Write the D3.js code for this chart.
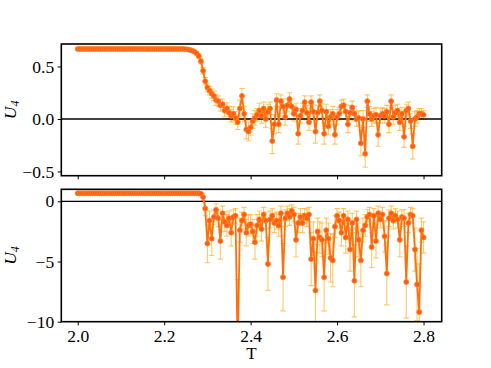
<!DOCTYPE html>
<html>
<head>
<meta charset="utf-8">
<script src="https://cdn.jsdelivr.net/npm/d3@7"></script>
<style>
  html, body { margin: 0; padding: 0; background: #fff; }
  svg { display: block; }
</style>
</head>
<body>
<svg id="chart" width="491" height="368"></svg>
<script>
// ---------------- DATA ----------------
const temps = [
2.000,2.005,2.010,2.015,2.020,2.025,2.030,2.035,2.040,2.045,
2.050,2.055,2.060,2.065,2.070,2.075,2.080,2.085,2.090,2.095,
2.100,2.105,2.110,2.115,2.120,2.125,2.130,2.135,2.140,2.145,
2.150,2.155,2.160,2.165,2.170,2.175,2.180,2.185,2.190,2.195,
2.200,2.205,2.210,2.215,2.220,2.225,2.230,2.235,2.240,2.245,
2.250,2.255,2.260,2.265,2.270,2.275,2.280,2.285,2.290,2.295,
2.300,2.305,2.310,2.315,2.320,2.325,2.330,2.335,2.340,2.345,
2.350,2.355,2.360,2.365,2.370,2.375,2.380,2.385,2.390,2.395,
2.400,2.405,2.410,2.415,2.420,2.425,2.430,2.435,2.440,2.445,
2.450,2.455,2.460,2.465,2.470,2.475,2.480,2.485,2.490,2.495,
2.500,2.505,2.510,2.515,2.520,2.525,2.530,2.535,2.540,2.545,
2.550,2.555,2.560,2.565,2.570,2.575,2.580,2.585,2.590,2.595,
2.600,2.605,2.610,2.615,2.620,2.625,2.630,2.635,2.640,2.645,
2.650,2.655,2.660,2.665,2.670,2.675,2.680,2.685,2.690,2.695,
2.700,2.705,2.710,2.715,2.720,2.725,2.730,2.735,2.740,2.745,
2.750,2.755,2.760,2.765,2.770,2.775,2.780,2.785,2.790,2.795,
2.800];

// top panel U4
const u4Top = [
0.667,0.667,0.667,0.667,0.667,0.667,0.667,0.667,0.667,0.667,
0.667,0.667,0.667,0.667,0.667,0.667,0.667,0.667,0.667,0.667,
0.667,0.667,0.667,0.667,0.667,0.667,0.667,0.667,0.667,0.667,
0.667,0.667,0.667,0.667,0.667,0.667,0.667,0.667,0.667,0.667,
0.667,0.667,0.667,0.667,0.667,0.667,0.667,0.667,0.666,0.666,
0.665,0.662,0.657,0.650,0.640,0.625,0.600,0.550,0.460,0.360,
0.30,0.27,0.24,0.22,0.18,0.17,0.13,0.14,0.08,0.10,
0.06,0.03,0.05,0.01,-0.03,0.10,0.22,0.05,-0.10,-0.12,
-0.08,-0.02,0.01,0.04,0.08,0.03,0.10,0.00,0.07,0.10,
-0.21,-0.05,0.18,-0.05,0.17,0.12,0.02,0.13,0.19,0.12,
0.05,0.09,-0.14,0.03,0.08,0.16,0.06,-0.03,0.16,0.07,
-0.12,0.06,0.17,0.08,-0.14,0.07,-0.07,0.02,0.05,-0.15,
0.02,0.05,0.12,0.13,0.07,-0.05,0.06,0.11,0.05,0.00,
0.01,-0.23,0.00,-0.33,0.17,0.05,0.00,0.03,0.04,-0.15,
0.03,0.05,0.03,0.07,-0.05,0.17,0.02,0.06,0.08,-0.03,
0.05,-0.17,0.08,0.10,-0.02,-0.26,0.00,0.02,0.05,0.05,
0.04];

const errTop = [
0.004,0.004,0.004,0.004,0.004,0.004,0.004,0.004,0.004,0.004,
0.004,0.004,0.004,0.004,0.004,0.004,0.004,0.004,0.004,0.004,
0.004,0.004,0.004,0.004,0.004,0.004,0.004,0.004,0.004,0.004,
0.004,0.004,0.004,0.004,0.004,0.004,0.004,0.004,0.004,0.004,
0.004,0.004,0.004,0.004,0.004,0.004,0.004,0.004,0.004,0.004,
0.005,0.006,0.008,0.010,0.012,0.015,0.020,0.025,0.030,0.035,
0.040,0.040,0.045,0.045,0.050,0.050,0.055,0.050,0.060,0.055,
0.060,0.060,0.065,0.060,0.070,0.08,0.07,0.07,0.09,0.09,
0.08,0.07,0.07,0.06,0.07,0.07,0.06,0.08,0.07,0.06,
0.12,0.09,0.06,0.08,0.06,0.07,0.08,0.06,0.06,0.07,
0.07,0.06,0.10,0.07,0.07,0.06,0.07,0.08,0.06,0.07,
0.11,0.07,0.06,0.07,0.10,0.07,0.08,0.07,0.07,0.09,
0.07,0.06,0.06,0.06,0.07,0.08,0.07,0.06,0.07,0.07,
0.07,0.12,0.08,0.13,0.06,0.07,0.07,0.07,0.07,0.11,
0.07,0.06,0.07,0.06,0.08,0.06,0.07,0.07,0.06,0.08,
0.06,0.10,0.06,0.06,0.07,0.12,0.07,0.06,0.05,0.05,
0.04];

// bottom panel U4
const u4Bottom = [
0.667,0.667,0.667,0.667,0.667,0.667,0.667,0.667,0.667,0.667,
0.667,0.667,0.667,0.667,0.667,0.667,0.667,0.667,0.667,0.667,
0.667,0.667,0.667,0.667,0.667,0.667,0.667,0.667,0.667,0.667,
0.667,0.667,0.667,0.667,0.667,0.667,0.667,0.667,0.667,0.667,
0.667,0.667,0.667,0.667,0.667,0.667,0.667,0.667,0.667,0.667,
0.667,0.667,0.667,0.667,0.667,0.666,0.665,0.62,0.35,-0.6,
-3.5,-1.6,-3.1,-1.3,-0.7,-1.4,-3.3,-1.0,-1.7,-2.0,
-1.4,-2.6,-1.3,-1.2,-12.5,-2.4,-1.6,-1.1,-2.6,-2.0,
-1.9,-2.5,-3.4,-2.0,-1.5,-2.3,-1.1,-1.6,-5.2,-1.5,
-1.2,-1.8,-1.6,-2.0,-1.0,-6.3,-1.4,-1.0,-1.3,-0.8,
-1.1,-3.2,-1.8,-1.3,-1.8,-1.2,-1.4,-1.1,-4.8,-3.1,
-7.4,-2.5,-3.0,-3.2,-6.3,-2.4,-3.1,-4.7,-4.9,-2.1,
-1.2,-1.6,-2.6,-1.2,-3.0,-1.5,-4.0,-1.8,-6.6,-1.5,
-3.2,-4.9,-2.4,-2.0,-1.3,-1.1,-3.8,-1.2,-3.3,-1.0,
-1.5,-1.1,-2.9,-6.0,-1.4,-1.0,-1.6,-1.2,-1.5,-3.2,
-1.3,-1.4,-6.7,-1.8,-1.1,-1.2,-4.0,-6.9,-9.2,-2.4,
-3.0];

const errBottom = [
0.05,0.05,0.05,0.05,0.05,0.05,0.05,0.05,0.05,0.05,
0.05,0.05,0.05,0.05,0.05,0.05,0.05,0.05,0.05,0.05,
0.05,0.05,0.05,0.05,0.05,0.05,0.05,0.05,0.05,0.05,
0.05,0.05,0.05,0.05,0.05,0.05,0.05,0.05,0.05,0.05,
0.05,0.05,0.05,0.05,0.05,0.05,0.05,0.05,0.05,0.05,
0.05,0.05,0.05,0.05,0.05,0.05,0.05,0.1,0.3,0.6,
1.6,0.8,1.4,0.6,0.5,0.7,1.5,0.6,0.8,0.9,
0.6,1.1,0.6,0.6,6.0,1.0,0.7,0.6,1.1,0.9,
0.8,1.0,1.4,0.9,0.7,1.0,0.6,0.7,2.2,0.7,
0.6,0.8,0.7,0.9,0.6,2.8,0.7,0.6,0.7,0.5,
0.6,1.4,0.8,0.7,0.8,0.6,0.7,0.6,2.2,1.4,
3.2,1.1,1.3,1.4,2.8,1.0,1.3,2.0,2.2,0.9,
0.6,0.7,1.1,0.6,1.3,0.7,1.8,0.8,3.0,0.7,
1.4,2.2,1.0,0.9,0.6,0.6,1.7,0.6,1.4,0.6,
0.7,0.6,1.3,2.6,0.7,0.6,0.7,0.6,0.7,1.4,
0.6,0.7,3.0,0.8,0.6,0.6,1.8,3.0,4.0,1.0,
1.3];

const xTicks = [2.0, 2.2, 2.4, 2.6, 2.8];
const yTicksTop = [0.5, 0.0, -0.5];
const yTicksBottom = [0, -5, -10];
const xLabel = "T";

// ---------------- LAYOUT ----------------
const FONT = "'Liberation Serif', 'DejaVu Serif', serif";
const svg = d3.select("#chart").attr("font-family", FONT);
const left = 61.3, right = 441.7;
const panels = [
  { id: "top", top: 44, bottom: 175.7, domain: [-0.54, 0.714], values: u4Top, errs: errTop,
    ticks: yTicksTop, fmt: d3.format(".1f"), showX: false },
  { id: "bot", top: 189.3, bottom: 321.7, domain: [-10, 1.0], values: u4Bottom, errs: errBottom,
    ticks: yTicksBottom, fmt: d3.format("d"), showX: true }
];

const x = d3.scaleLinear().domain([1.962, 2.842]).range([left, right]);
const minus = s => s.replace("-", "\u2212");

const fontSize = 17.5;
const errColor = "rgba(255,180,50,0.7)";
const lineColor = "#ff700a";
const markerFill = "#ff5a1e";
const markerStroke = "#ff8412";

panels.forEach(p => {
  const y = d3.scaleLinear().domain(p.domain).range([p.bottom, p.top]);
  const n = Math.min(temps.length, p.values.length, p.errs.length);
  const data = d3.range(n).map(i => ({ t: temps[i], v: p.values[i], e: p.errs[i] }));

  svg.append("clipPath").attr("id", "clip-" + p.id)
    .append("rect").attr("x", left).attr("y", p.top)
    .attr("width", right - left).attr("height", p.bottom - p.top);

  const g = svg.append("g").attr("clip-path", `url(#clip-${p.id})`);

  // error bars
  const eb = g.append("g").attr("stroke", errColor).attr("stroke-width", 1.15).attr("fill", "none");
  data.forEach(d => {
    const px = x(d.t), y1 = y(d.v - d.e), y2 = y(d.v + d.e);
    eb.append("line").attr("x1", px).attr("x2", px).attr("y1", y1).attr("y2", y2);
    eb.append("line").attr("x1", px - 2.7).attr("x2", px + 2.7).attr("y1", y1).attr("y2", y1);
    eb.append("line").attr("x1", px - 2.7).attr("x2", px + 2.7).attr("y1", y2).attr("y2", y2);
  });

  // zero line
  g.append("line").attr("x1", left).attr("x2", right)
    .attr("y1", y(0)).attr("y2", y(0)).attr("stroke", "#000").attr("stroke-width", 1.3);

  // data line
  g.append("path").datum(data)
    .attr("d", d3.line().x(d => x(d.t)).y(d => y(d.v)))
    .attr("fill", "none").attr("stroke", lineColor).attr("stroke-width", 1.8)
    .attr("stroke-linejoin", "round");

  // markers
  g.append("g").selectAll("circle").data(data).join("circle")
    .attr("cx", d => x(d.t)).attr("cy", d => y(d.v)).attr("r", 2.5)
    .attr("fill", markerFill).attr("stroke", markerStroke).attr("stroke-width", 0.8);

  // y axis
  const ya = svg.append("g").attr("transform", `translate(${left},0)`)
    .call(d3.axisLeft(y).tickValues(p.ticks).tickSize(3.6).tickPadding(3.5)
      .tickFormat(d => minus(p.fmt(d))).tickSizeOuter(0));
  ya.attr("font-family", FONT).attr("font-size", fontSize);
  ya.select(".domain").remove();
  ya.selectAll(".tick line").attr("stroke", "#000").attr("stroke-width", 1);
  ya.selectAll(".tick text").attr("font-family", FONT).attr("font-size", fontSize).attr("fill", "#000");

  // x axis
  const xa = svg.append("g").attr("transform", `translate(0,${p.bottom})`)
    .call(d3.axisBottom(x).tickValues(xTicks).tickSize(3.6).tickPadding(4)
      .tickFormat(p.showX ? d3.format(".1f") : () => "").tickSizeOuter(0));
  xa.attr("font-family", FONT).attr("font-size", fontSize);
  xa.select(".domain").remove();
  xa.selectAll(".tick line").attr("stroke", "#000").attr("stroke-width", 1);
  xa.selectAll(".tick text").attr("font-family", FONT).attr("font-size", fontSize).attr("fill", "#000");

  // frame
  svg.append("rect").attr("x", left).attr("y", p.top)
    .attr("width", right - left).attr("height", p.bottom - p.top)
    .attr("fill", "none").attr("stroke", "#000").attr("stroke-width", 1.6);

  // y label U_4
  const cy = (p.top + p.bottom) / 2;
  const lab = svg.append("text")
    .attr("transform", `translate(16,${cy}) rotate(-90)`)
    .attr("text-anchor", "middle").attr("font-family", FONT).attr("font-size", fontSize);
  lab.append("tspan").attr("font-style", "italic").text("U");
  lab.append("tspan").attr("font-style", "italic").attr("font-size", 12).attr("dy", 3).text("4");
});

// x label
svg.append("text").attr("x", (left + right) / 2).attr("y", 359)
  .attr("text-anchor", "middle").attr("font-family", FONT).attr("font-size", 17).text(xLabel);
</script>
</body>
</html>
